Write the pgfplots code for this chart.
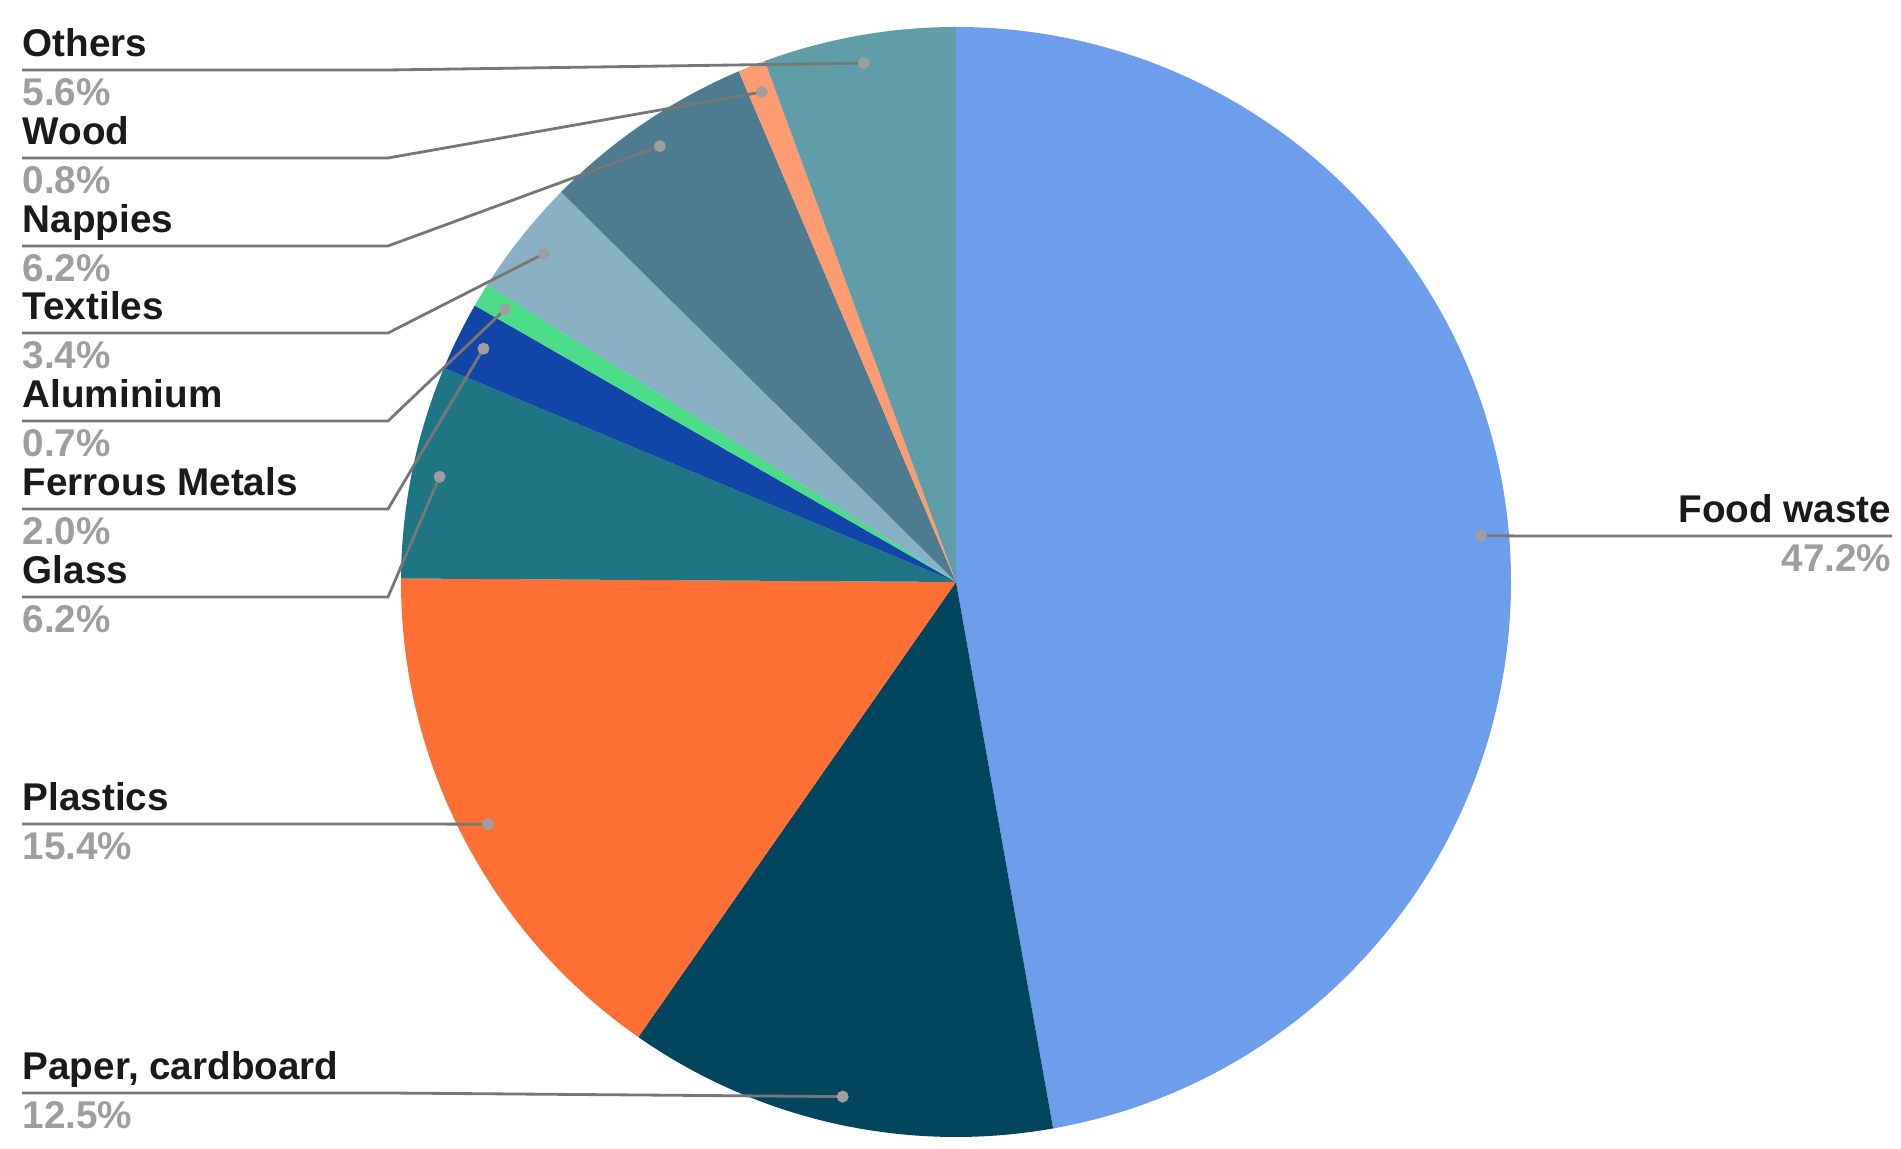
\documentclass[border=0pt]{standalone}
\usepackage{pgfplots}
\usepackage{pgfplotstable}
\pgfplotsset{compat=1.18}
\usepackage{fontspec}
\setmainfont{Liberation Sans}

% slice colours, in table order
\definecolor{c0}{HTML}{6D9EEB}
\definecolor{c1}{HTML}{01455F}
\definecolor{c2}{HTML}{FF6F33}
\definecolor{c3}{HTML}{1F7583}
\definecolor{c4}{HTML}{1245A8}
\definecolor{c5}{HTML}{4CDD89}
\definecolor{c6}{HTML}{8AB0C6}
\definecolor{c7}{HTML}{4D7B8F}
\definecolor{c8}{HTML}{FF9B70}
\definecolor{c9}{HTML}{5F9DA8}
\definecolor{leader}{HTML}{777777}
\definecolor{dotgray}{HTML}{9E9E9E}
\definecolor{pctgray}{HTML}{9E9E9E}
\definecolor{namecol}{HTML}{1A1A1A}

% value in %, y of the label's leader line (px from top)
\pgfplotstableread{
name value L
{Food waste} 47.2 536
{Paper, cardboard} 12.5 1093
Plastics 15.4 824
Glass 6.2 597
{Ferrous Metals} 2.0 509
Aluminium 0.7 421
Textiles 3.4 333
Nappies 6.2 246
Wood 0.8 158
Others 5.6 70
}\piedata

\tikzset{lbl/.style={inner sep=0pt, font=\bfseries\fontsize{11}{13}\selectfont}}

\begin{document}
\begin{tikzpicture}
\begin{axis}[
  width=19.01cm, height=11.49cm, scale only axis,
  xmin=0, xmax=1901, ymin=0, ymax=1149,
  hide axis, clip=false,
]
\addplot[draw=none, forget plot] coordinates {(0,0) (1901,1149)};

% wedges, clockwise from 12 o'clock
\def\cum{0}
\pgfplotsforeachungrouped \i in {0,...,9}{%
  \pgfplotstablegetelem{\i}{value}\of\piedata \let\v\pgfplotsretval
  \pgfmathsetmacro\sa{90-3.6*\cum}
  \pgfmathsetmacro\cum{\cum+\v}
  \pgfmathsetmacro\ea{90-3.6*\cum}
  \edef\cmd{\noexpand\fill[c\i, overlay] (axis cs:956,567) -- ++(\sa:5.55cm)
    arc[start angle=\sa, end angle=\ea, radius=5.55cm] -- cycle;}
  \cmd
}

% leader lines, dots and labels
\def\cum{0}
\pgfplotsforeachungrouped \i in {0,...,9}{%
  \pgfplotstablegetelem{\i}{value}\of\piedata \let\v\pgfplotsretval
  \pgfplotstablegetelem{\i}{name}\of\piedata \let\nm\pgfplotsretval
  \pgfplotstablegetelem{\i}{L}\of\piedata \let\L\pgfplotsretval
  \pgfmathsetmacro\ma{90-3.6*(\cum+\v/2)}
  \pgfmathsetmacro\cum{\cum+\v}
  \pgfmathsetmacro\dx{956+527*cos(\ma)}
  \pgfmathsetmacro\dy{567+527*sin(\ma)}
  \pgfmathsetmacro\ly{1149-\L}
  \pgfmathsetmacro\ny{\ly+13}
  \pgfmathsetmacro\py{\ly-36}
  \ifnum\i=0
    \edef\cmd{%
      \noexpand\addplot[leader, line width=0.8pt, forget plot] coordinates {(1892,\ly) (1526,\ly) (\dx,\dy)};
      \noexpand\addplot[only marks, mark=*, mark size=1.5pt, dotgray, forget plot] coordinates {(\dx,\dy)};
      \noexpand\node[lbl, namecol, anchor=base east] at (axis cs:1892,\ny) {\nm};
      \noexpand\node[lbl, pctgray, anchor=base east] at (axis cs:1892,\py) {\v\%};
    }%
  \else
    \edef\cmd{%
      \noexpand\addplot[leader, line width=0.8pt, forget plot] coordinates {(22,\ly) (388,\ly) (\dx,\dy)};
      \noexpand\addplot[only marks, mark=*, mark size=1.5pt, dotgray, forget plot] coordinates {(\dx,\dy)};
      \noexpand\node[lbl, namecol, anchor=base west] at (axis cs:22,\ny) {\nm};
      \noexpand\node[lbl, pctgray, anchor=base west] at (axis cs:22,\py) {\v\%};
    }%
  \fi
  \cmd
}
\end{axis}
\end{tikzpicture}
\end{document}
